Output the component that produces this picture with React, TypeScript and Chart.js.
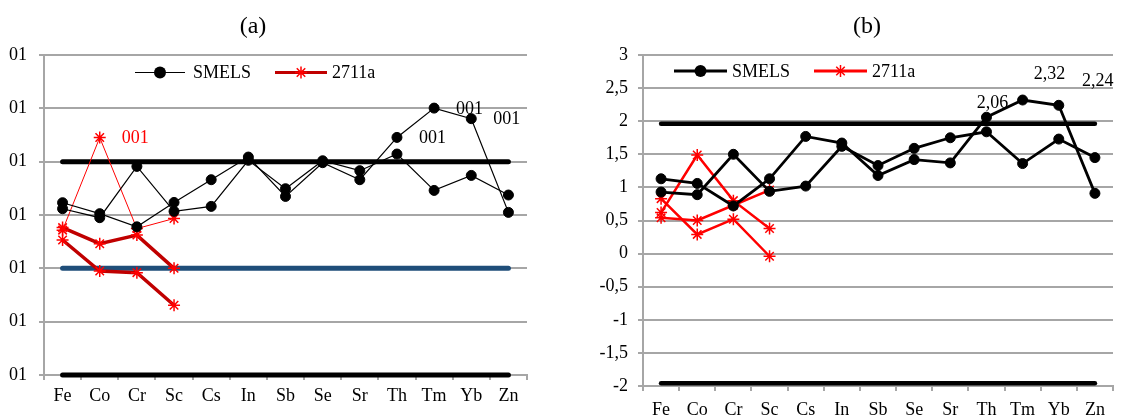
import React, { useEffect, useRef } from "react";
import { Chart, registerables } from "chart.js";
Chart.register(...registerables);

const FONT = "'Liberation Serif', 'Times New Roman', serif";

// ---------- shared categories ----------
const categories = ["Fe", "Co", "Cr", "Sc", "Cs", "In", "Sb", "Se", "Sr", "Th", "Tm", "Yb", "Zn"];

// ---------- chart (a): logarithmic ----------
const yTicksA = [0.001, 0.01, 0.1, 1, 10, 100, 1000];
const yTickLabelsA = ["01", "01", "01", "01", "01", "01", "01"];
const smelsA1 = [1.31, 0.89, 8.15, 1.17, 1.45, 10.6, 3.11, 10.4, 6.77, 13.9, 2.89, 5.52, 2.37];
const smelsA2 = [1.7, 1.06, 0.6, 1.72, 4.59, 12.2, 2.23, 9.57, 4.59, 28.5, 101, 64, 1.12];
const std2711aA1 = [0.58, 0.29, 0.42, 0.1];
const std2711aA2 = [0.34, 0.089, 0.083, 0.0203];
const std2711aA3 = [0.52, 28.3, 0.556, 0.86];
const refUpperA = [10, 10, 10, 10, 10, 10, 10, 10, 10, 10, 10, 10, 10];
const refMidA = [0.1, 0.1, 0.1, 0.1, 0.1, 0.1, 0.1, 0.1, 0.1, 0.1, 0.1, 0.1, 0.1];
const refLowA = [0.001, 0.001, 0.001, 0.001, 0.001, 0.001, 0.001, 0.001, 0.001, 0.001, 0.001, 0.001, 0.001];

// ---------- chart (b): linear z-scores ----------
const smelsB1 = [0.93, 0.89, 1.5, 0.94, 1.02, 1.62, 1.33, 1.59, 1.75, 1.84, 1.36, 1.73, 1.45];
const smelsB2 = [1.13, 1.06, 0.72, 1.13, 1.77, 1.67, 1.18, 1.42, 1.37, 2.06, 2.32, 2.24, 0.91];
const std2711aB1 = [0.54, 0.5, 0.73, 0.96];
const std2711aB2 = [0.83, 0.29, 0.52, -0.04];
const std2711aB3 = [0.62, 1.49, 0.8, 0.38];
const refUpperB = [1.96, 1.96, 1.96, 1.96, 1.96, 1.96, 1.96, 1.96, 1.96, 1.96, 1.96, 1.96, 1.96];
const refLowB = [-1.96, -1.96, -1.96, -1.96, -1.96, -1.96, -1.96, -1.96, -1.96, -1.96, -1.96, -1.96, -1.96];

const legendLabels = ["SMELS", "2711a"];
const pointTextsA = ["001", "001", "001", "001"];
const pointTextsB = ["2,06", "2,32", "2,24"];

const GRID = "#A6A6A6";

function drawStar(ctx: CanvasRenderingContext2D, x: number, y: number, r: number, color: string, w: number) {
  ctx.save();
  ctx.strokeStyle = color;
  ctx.lineWidth = w;
  ctx.beginPath();
  ctx.moveTo(x, y - r); ctx.lineTo(x, y + r);
  ctx.moveTo(x - r, y); ctx.lineTo(x + r, y);
  const d = r * Math.SQRT1_2;
  ctx.moveTo(x - d, y - d); ctx.lineTo(x + d, y + d);
  ctx.moveTo(x - d, y + d); ctx.lineTo(x + d, y - d);
  ctx.stroke();
  ctx.restore();
}

const legendPlugin = {
  id: "refLegend",
  afterDraw(chart: any, _a: any, opts: any) {
    if (!opts || !opts.items) return;
    const ctx: CanvasRenderingContext2D = chart.ctx;
    ctx.save();
    for (const it of opts.items) {
      ctx.strokeStyle = it.color;
      ctx.lineWidth = it.lineWidth;
      ctx.beginPath();
      ctx.moveTo(it.x1, opts.y);
      ctx.lineTo(it.x2, opts.y);
      ctx.stroke();
      const mx = (it.x1 + it.x2) / 2;
      if (it.marker === "circle") {
        ctx.fillStyle = it.markerColor;
        ctx.beginPath();
        ctx.arc(mx, opts.y, it.r, 0, Math.PI * 2);
        ctx.fill();
      } else {
        drawStar(ctx, mx, opts.y, it.r, it.markerColor, it.markerWidth);
      }
      ctx.fillStyle = "#000";
      ctx.font = `${opts.size}px ${FONT}`;
      ctx.textBaseline = "middle";
      ctx.textAlign = "left";
      ctx.fillText(it.label, it.textX, opts.y + 1);
    }
    ctx.restore();
  },
};

const pointLabelPlugin = {
  id: "pointLabels",
  afterDatasetsDraw(chart: any, _a: any, opts: any) {
    if (!opts || !opts.labels) return;
    const ctx: CanvasRenderingContext2D = chart.ctx;
    ctx.save();
    for (const l of opts.labels) {
      const el = chart.getDatasetMeta(l.dataset).data[l.index];
      if (!el) continue;
      ctx.fillStyle = l.color;
      ctx.font = `${opts.size}px ${FONT}`;
      ctx.textAlign = l.align;
      ctx.textBaseline = "middle";
      ctx.fillText(l.text, el.x + l.dx, el.y + l.dy);
    }
    ctx.restore();
  },
};

function blackSeries(data: number[], width: number) {
  return {
    label: legendLabels[0],
    data,
    borderColor: "#000",
    borderWidth: width,
    pointStyle: "circle",
    pointRadius: 5,
    pointBackgroundColor: "#000",
    pointBorderColor: "#000",
    pointBorderWidth: 1,
    tension: 0,
  };
}

function redSeries(data: number[], color: string, width: number) {
  return {
    label: legendLabels[1],
    data,
    borderColor: color,
    borderWidth: width,
    pointStyle: "star",
    pointRadius: 6,
    pointBorderColor: "#FF0000",
    pointBackgroundColor: "#FF0000",
    pointBorderWidth: 1.5,
    tension: 0,
  };
}

function refSeries(data: number[], color: string, width: number) {
  return {
    label: "ref",
    data,
    borderColor: color,
    borderWidth: width,
    pointRadius: 0,
    borderCapStyle: "round",
    clip: false,
  };
}

function xAxis(height: number, pad: number) {
  return {
    type: "category",
    offset: true,
    grid: { offset: true, drawOnChartArea: false, drawTicks: true, tickLength: 5, color: GRID, lineWidth: 2 },
    border: { color: GRID, width: 2 },
    ticks: { color: "#000", font: { family: FONT, size: 18 }, padding: pad, autoSkip: false, maxRotation: 0 },
    afterFit: (s: any) => { s.height = height; },
  };
}

function makeConfigA(): any {
  return {
    type: "line",
    data: {
      labels: categories,
      datasets: [
        blackSeries(smelsA1, 1.2),
        blackSeries(smelsA2, 1.2),
        redSeries(std2711aA3, "#FF0000", 1),
        redSeries(std2711aA1, "#C00000", 3.5),
        redSeries(std2711aA2, "#C00000", 3.5),
        refSeries(refUpperA, "#000", 5),
        refSeries(refMidA, "#1F4E79", 5),
        refSeries(refLowA, "#000", 5),
      ],
    },
    options: {
      responsive: false,
      animation: false,
      events: [],
      layout: { padding: { left: 0, right: 36, top: 55, bottom: 0 } },
      plugins: {
        legend: { display: false },
        tooltip: { enabled: false },
        refLegend: {
          y: 72.5,
          size: 18,
          items: [
            { label: legendLabels[0], color: "#000", lineWidth: 1.2, marker: "circle", markerColor: "#000", r: 6, x1: 135, x2: 185, textX: 193 },
            { label: legendLabels[1], color: "#C00000", lineWidth: 3, marker: "star", markerColor: "#FF0000", markerWidth: 1.5, r: 6, x1: 275, x2: 327, textX: 332 },
          ],
        },
        pointLabels: {
          size: 18,
          labels: [
            { dataset: 1, index: 9, text: pointTextsA[0], color: "#000", dx: 22, dy: 1, align: "left" },
            { dataset: 1, index: 10, text: pointTextsA[1], color: "#000", dx: 22, dy: 1, align: "left" },
            { dataset: 1, index: 11, text: pointTextsA[2], color: "#000", dx: 22, dy: 1, align: "left" },
            { dataset: 2, index: 1, text: pointTextsA[3], color: "#FF0000", dx: 22, dy: 1, align: "left" },
          ],
        },
      },
      scales: {
        x: xAxis(42, 5),
        y: {
          type: "logarithmic",
          min: 0.001,
          max: 1000,
          afterBuildTicks: (s: any) => { s.ticks = yTicksA.map((v) => ({ value: v })); },
          grid: { color: GRID, lineWidth: 2, tickLength: 5, drawTicks: true },
          border: { color: GRID, width: 2 },
          ticks: {
            color: "#000",
            font: { family: FONT, size: 18 },
            padding: 12,
            callback: (_v: any, i: number) => yTickLabelsA[i],
          },
          afterFit: (s: any) => { s.width = 44; },
        },
      },
    },
    plugins: [legendPlugin, pointLabelPlugin],
  };
}

function makeConfigB(): any {
  return {
    type: "line",
    data: {
      labels: categories,
      datasets: [
        blackSeries(smelsB1, 2.8),
        blackSeries(smelsB2, 2.8),
        redSeries(std2711aB1, "#FF0000", 2.5),
        redSeries(std2711aB2, "#FF0000", 2.5),
        redSeries(std2711aB3, "#FF0000", 2.5),
        refSeries(refUpperB, "#000", 4.5),
        refSeries(refLowB, "#000", 4.5),
      ],
    },
    options: {
      responsive: false,
      animation: false,
      events: [],
      layout: { padding: { left: 0, right: 13, top: 55, bottom: 0 } },
      plugins: {
        legend: { display: false },
        tooltip: { enabled: false },
        refLegend: {
          y: 71,
          size: 18,
          items: [
            { label: legendLabels[0], color: "#000", lineWidth: 3, marker: "circle", markerColor: "#000", r: 6, x1: 111, x2: 164, textX: 169 },
            { label: legendLabels[1], color: "#FF0000", lineWidth: 3, marker: "star", markerColor: "#FF0000", markerWidth: 1.5, r: 6, x1: 251, x2: 304, textX: 309 },
          ],
        },
        pointLabels: {
          size: 18,
          labels: [
            { dataset: 1, index: 9, text: pointTextsB[0], color: "#000", dx: 6, dy: -14, align: "center" },
            { dataset: 1, index: 10, text: pointTextsB[1], color: "#000", dx: 27, dy: -26, align: "center" },
            { dataset: 1, index: 11, text: pointTextsB[2], color: "#000", dx: 39, dy: -24, align: "center" },
          ],
        },
      },
      scales: {
        x: xAxis(31, 8),
        y: {
          type: "linear",
          min: -2,
          max: 3,
          grid: { color: GRID, lineWidth: 2, tickLength: 5, drawTicks: true },
          border: { color: GRID, width: 2 },
          ticks: {
            stepSize: 0.5,
            color: "#000",
            font: { family: FONT, size: 18 },
            padding: 10,
            callback: (v: any) => String(v).replace(".", ","),
          },
          afterFit: (s: any) => { s.width = 80; },
        },
      },
    },
    plugins: [legendPlugin, pointLabelPlugin],
  };
}

function ChartCanvas({ make, left }: { make: () => any; left: number }) {
  const ref = useRef<HTMLCanvasElement | null>(null);
  useEffect(() => {
    if (!ref.current) return;
    const chart = new Chart(ref.current, make());
    return () => chart.destroy();
  }, [make]);
  return (
    <canvas
      ref={ref}
      width={563}
      height={417}
      style={{ position: "absolute", left, top: 0, width: 563, height: 417 }}
    />
  );
}

const titleStyle: React.CSSProperties = {
  position: "absolute",
  top: 8,
  width: 80,
  textAlign: "center",
  fontFamily: FONT,
  fontSize: 24,
  lineHeight: "34px",
  color: "#000",
};

export default function App() {
  return (
    <div style={{ position: "absolute", left: 0, top: 0, width: 1126, height: 417, background: "#fff", overflow: "hidden" }}>
      <ChartCanvas make={makeConfigA} left={0} />
      <ChartCanvas make={makeConfigB} left={563} />
      <div style={{ ...titleStyle, left: 253 - 40 }}>(a)</div>
      <div style={{ ...titleStyle, left: 867 - 40 }}>(b)</div>
    </div>
  );
}
